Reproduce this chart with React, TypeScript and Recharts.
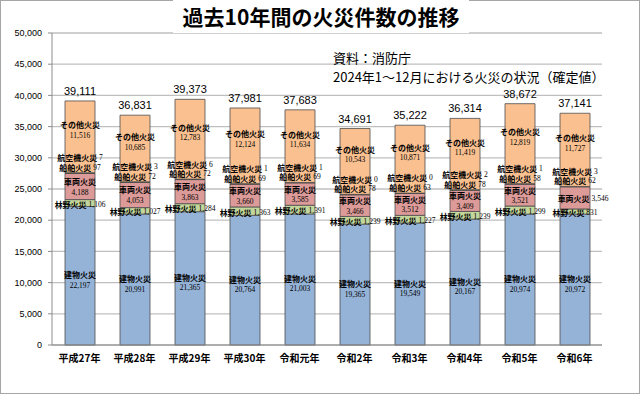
import React from 'react';
import { BarChart, Bar, XAxis, YAxis, CartesianGrid, LabelList } from 'recharts';

const categories = ['平成27年', '平成28年', '平成29年', '平成30年', '令和元年', '令和2年', '令和3年', '令和4年', '令和5年', '令和6年'];
const building = [22197, 20991, 21365, 20764, 21003, 19365, 19549, 20167, 20974, 20972];
const forest = [1106, 1027, 1284, 1363, 1391, 1239, 1227, 1239, 1299, 831];
const vehicle = [4188, 4053, 3863, 3660, 3585, 3466, 3512, 3409, 3521, 3546];
const ship = [97, 72, 72, 69, 69, 78, 63, 78, 58, 62];
const aircraft = [7, 3, 6, 1, 1, 0, 0, 2, 1, 3];
const other = [11516, 10685, 12783, 12124, 11634, 10543, 10871, 11419, 12819, 11727];
const totals = [39111, 36831, 39373, 37981, 37683, 34691, 35222, 36314, 38672, 37141];
const yTicks = [0, 5000, 10000, 15000, 20000, 25000, 30000, 35000, 40000, 45000, 50000];

const seriesNames = {
  building: '建物火災',
  forest: '林野火災',
  vehicle: '車両火災',
  ship: '船舶火災',
  aircraft: '航空機火災',
  other: 'その他火災',
};

const data = categories.map((c, i) => ({
  name: c,
  building: building[i],
  forest: forest[i],
  vehicle: vehicle[i],
  ship: ship[i],
  aircraft: aircraft[i],
  other: other[i],
}));

const fmt = (v: number) => v.toLocaleString('en-US');
const JP = '"Noto Sans CJK JP", sans-serif';
const NUM = '"Liberation Serif", serif';

const twoLine = (cx: number, cy: number, name: string, val: number, key: string) => (
  <g key={key}>
    <text x={cx} y={cy - 5} textAnchor="middle" dominantBaseline="central" fontSize={8} fontWeight="bold" fontFamily={JP} fill="#000">{name}</text>
    <text x={cx} y={cy + 5.5} textAnchor="middle" dominantBaseline="central" fontSize={7.5} fontFamily={NUM} fill="#000">{fmt(val)}</text>
  </g>
);

const oneLine = (cx: number, cy: number, name: string, val: number, key: string) => (
  <text key={key} x={cx} y={cy} textAnchor="middle" dominantBaseline="central" fontSize={8} fill="#000">
    <tspan fontWeight="bold" fontFamily={JP}>{name}</tspan>
    <tspan fontFamily={NUM} fontSize={7.5}>{' ' + fmt(val)}</tspan>
  </text>
);

const num = (v: any) => Number(v);

const buildingLabel = (p: any) => {
  const x = num(p.x), y = num(p.y), w = num(p.width), h = num(p.height), i = p.index;
  return twoLine(x + w / 2, y + h / 2 + 4, seriesNames.building, building[i], 'b' + i);
};
const forestLabel = (p: any) => {
  const x = num(p.x), y = num(p.y), w = num(p.width), h = num(p.height), i = p.index;
  return oneLine(x + w / 2, y + h / 2 + 0.5, seriesNames.forest, forest[i], 'f' + i);
};
const vehicleLabel = (p: any) => {
  const x = num(p.x), y = num(p.y), w = num(p.width), h = num(p.height), i = p.index;
  if (i === 9) return oneLine(x + w / 2 + 8, y + h / 2, seriesNames.vehicle, vehicle[i], 'v' + i);
  return twoLine(x + w / 2, y + h / 2, seriesNames.vehicle, vehicle[i], 'v' + i);
};
const shipLabel = (p: any) => {
  const x = num(p.x), y = num(p.y), w = num(p.width), h = num(p.height), i = p.index;
  const top = y + h;
  return (
    <g key={'s' + i}>
      {oneLine(x + w / 2, top - 16, seriesNames.aircraft, aircraft[i], 'a' + i)}
      {oneLine(x + w / 2, top - 6.5, seriesNames.ship, ship[i], 'sh' + i)}
    </g>
  );
};
const otherLabel = (p: any) => {
  const x = num(p.x), y = num(p.y), w = num(p.width), h = num(p.height), i = p.index;
  const cx = x + w / 2;
  return (
    <g key={'o' + i}>
      {twoLine(cx, y + h / 2 - 7, seriesNames.other, other[i], 'oo' + i)}
      <text x={cx} y={y - 10} textAnchor="middle" dominantBaseline="central" fontSize={11} fontFamily={'"Liberation Sans", sans-serif'} fill="#000">{fmt(totals[i])}</text>
    </g>
  );
};

const stroke = '#4d4d4d';

export default function App() {
  return (
    <div style={{ position: 'absolute', left: 0, top: 0, width: 640, height: 394, background: '#fff', border: '1px solid #a6a6a6', boxSizing: 'border-box' }}>
      <BarChart width={638} height={392} data={data} margin={{ top: 32, right: 37, bottom: 18, left: 0 }} barSize={30} style={{ position: 'absolute', left: 0, top: 0 }}>
        <CartesianGrid vertical={false} stroke="#bfbfbf" strokeWidth={1.3} />
        <XAxis dataKey="name" height={30} tickLine={false} axisLine={{ stroke: '#8c8c8c' }} tickMargin={4}
          tick={{ fontSize: 10, fontWeight: 'bold', fill: '#000', fontFamily: JP }} />
        <YAxis width={51} domain={[0, 50000]} ticks={yTicks} tickFormatter={fmt} axisLine={{ stroke: '#8c8c8c' }} tickLine={{ stroke: '#8c8c8c' }} tickSize={4} tickMargin={6}
          tick={{ fontSize: 9, fill: '#000', fontFamily: '"Liberation Sans", sans-serif' }} interval={0} />
        <Bar dataKey="building" stackId="a" fill="#95b3d7" stroke={stroke} strokeWidth={0.8} isAnimationActive={false}>
          <LabelList content={buildingLabel} />
        </Bar>
        <Bar dataKey="forest" stackId="a" fill="#c3d69b" stroke={stroke} strokeWidth={0.8} isAnimationActive={false}>
          <LabelList content={forestLabel} />
        </Bar>
        <Bar dataKey="vehicle" stackId="a" fill="#dc9a98" stroke={stroke} strokeWidth={0.8} isAnimationActive={false}>
          <LabelList content={vehicleLabel} />
        </Bar>
        <Bar dataKey="ship" stackId="a" fill="#4f6228" stroke={stroke} strokeWidth={0.8} isAnimationActive={false}>
          <LabelList content={shipLabel} />
        </Bar>
        <Bar dataKey="aircraft" stackId="a" fill="#7f7f7f" stroke={stroke} strokeWidth={0.8} isAnimationActive={false} />
        <Bar dataKey="other" stackId="a" fill="#fac090" stroke={stroke} strokeWidth={0.8} isAnimationActive={false}>
          <LabelList content={otherLabel} />
        </Bar>
      </BarChart>
      <div style={{ position: 'absolute', left: 172, top: -2, width: 296, textAlign: 'center', background: '#fff', fontFamily: JP, fontWeight: 'bold', fontSize: 21, lineHeight: '34px', color: '#000' }}>
        過去10年間の火災件数の推移
      </div>
      <div style={{ position: 'absolute', left: 332, top: 47, fontFamily: JP, fontSize: 13, lineHeight: '19px', color: '#000', whiteSpace: 'nowrap' }}>
        資料：消防庁<br />2024年1～12月における火災の状況（確定値）
      </div>
    </div>
  );
}
